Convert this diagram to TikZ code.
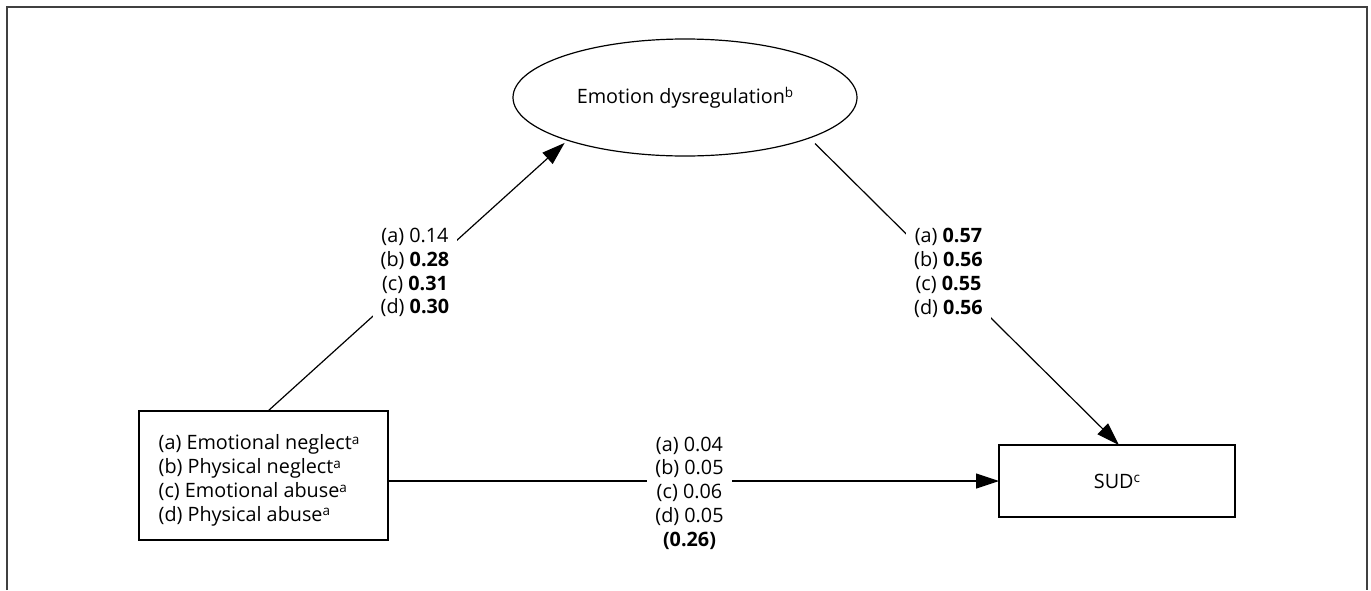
\documentclass[tikz,border=0pt]{standalone}
\usepackage{fontspec}
\setmainfont{Open Sans}
\usetikzlibrary{shapes.geometric,arrows.meta}
\newcommand{\mysup}[1]{\raisebox{5.5pt}{\fontsize{13.5}{13.5}\selectfont #1}}
\definecolor{framegray}{HTML}{404040}
\begin{document}
\begin{tikzpicture}[x=1pt,y=-1pt,
  every node/.style={font=\fontsize{19.8}{23.8}\selectfont, outer sep=0pt},
  box/.style={draw=black, line width=1.2pt, rectangle, inner sep=0pt},
  ell/.style={draw=black, line width=1.2pt, ellipse, inner sep=0pt,
    minimum width=344pt, minimum height=117pt},
  conn/.style={draw=black, line width=1.2pt},
  arr/.style={conn, -{Triangle[length=23pt,width=15pt]}},
  lab/.style={fill=white, inner sep=8pt, align=center},
  frameline/.style={draw=framegray, line width=1.7pt}
]
\useasboundingbox (0,0) rectangle (1371,590);
\draw[frameline] (7,590) -- (7,7) -- (1367,7) -- (1367,590);

\node[box, minimum width=249pt, minimum height=129pt,
  label={[name=lboxtxt, align=left, xshift=-4.5pt, yshift=-5pt]center:{(a) Emotional neglect\mysup{a}\\(b) Physical neglect\mysup{a}\\(c) Emotional abuse\mysup{a}\\(d) Physical abuse\mysup{a}}}]
  (lbox) at (263.5,475.5) {};
\node[box, minimum width=236pt, minimum height=72pt] (sud) at (1117,481) {SUD\mysup{c}};
\node[ell] (el) at (685,97.5) {Emotion dysregulation\mysup{b}};

\draw[arr, shorten >=4pt] ([xshift=4.5pt]lbox.north) -- (el.200.1);
\draw[arr, shorten <=8pt] (el.342.5) -- ([xshift=2pt]sud.north);
\draw[arr] (lbox.east |- sud.west) -- (sud.west);

\node[lab] (labL) at (415,272.6) {(a) 0.14\\(b) \textbf{0.28}\\(c) \textbf{0.31}\\(d) \textbf{0.30}};
\node[lab] (labR) at (948.5,273) {(a) \textbf{0.57}\\(b) \textbf{0.56}\\(c) \textbf{0.55}\\(d) \textbf{0.56}};
\node[lab] (labM) at (689.5,493) {(a) 0.04\\(b) 0.05\\(c) 0.06\\(d) 0.05\\\textbf{(0.26)}};
\end{tikzpicture}
\end{document}
